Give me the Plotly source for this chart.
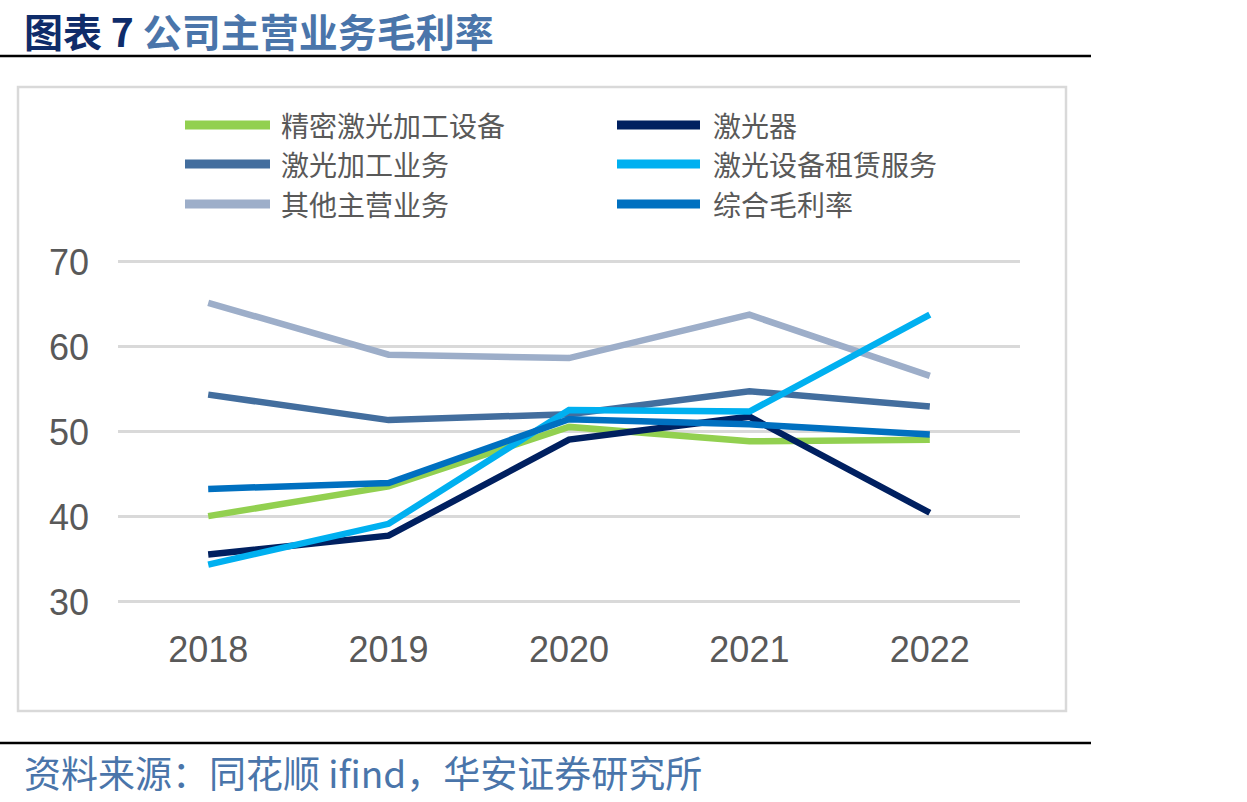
import plotly.graph_objects as go

W, H = 1247, 802

years = ["2018", "2019", "2020", "2021", "2022"]
series_names = ["精密激光加工设备", "激光器", "激光加工业务", "激光设备租赁服务", "其他主营业务", "综合毛利率"]
precision_equipment = [40.1, 43.6, 50.6, 48.9, 49.1]
lasers = [35.6, 37.8, 49.1, 51.8, 40.5]
laser_processing = [54.4, 51.4, 52.1, 54.8, 53.0]
equipment_leasing = [34.4, 39.2, 52.6, 52.4, 63.8]
other_business = [65.2, 59.1, 58.7, 63.8, 56.6]
overall_margin = [43.3, 44.0, 51.5, 50.9, 49.7]
y_ticks = [30, 40, 50, 60, 70]

values = [precision_equipment, lasers, laser_processing, equipment_leasing, other_business, overall_margin]
colors = ["#92D050", "#002060", "#436E9E", "#00B0F0", "#9DAEC9", "#0070C0"]
draw_order = [4, 2, 0, 1, 3, 5]

fig = go.Figure()
for i in draw_order:
    fig.add_trace(go.Scatter(
        x=years, y=values[i], name=series_names[i], mode="lines",
        line=dict(color=colors[i], width=6.5),
        showlegend=False, hoverinfo="x+y+name",
    ))

def px(x):
    return x / W

def py(y):
    return 1 - y / H

shapes = []
annotations = []

leg_rows = [125, 164, 204]
leg_cols = [(185, 270, 279), (617, 700, 711)]
for k, name in enumerate(series_names):
    r, c = divmod(k, 2)
    x0, x1, xt = leg_cols[c]
    yy = leg_rows[r]
    shapes.append(dict(type="line", xref="paper", yref="paper",
                       x0=px(x0), x1=px(x1), y0=py(yy), y1=py(yy),
                       line=dict(color=colors[k], width=9)))
    annotations.append(dict(xref="paper", yref="paper", x=px(xt), y=py(yy),
                            xanchor="left", yanchor="middle", showarrow=False,
                            text=name,
                            font=dict(family="Noto Sans CJK SC", size=28, color="#595959")))

shapes.append(dict(type="rect", xref="paper", yref="paper",
                   x0=px(18), x1=px(1066), y0=py(711), y1=py(87),
                   line=dict(color="#D9D9D9", width=2.5), layer="below"))
shapes.append(dict(type="line", xref="paper", yref="paper",
                   x0=0, x1=px(1091), y0=py(56), y1=py(56),
                   line=dict(color="#000000", width=2.5)))
shapes.append(dict(type="line", xref="paper", yref="paper",
                   x0=0, x1=px(1091), y0=py(743), y1=py(743),
                   line=dict(color="#000000", width=2.5)))

annotations.append(dict(xref="paper", yref="paper", x=px(22), y=py(30),
                        xanchor="left", yanchor="middle", showarrow=False,
                        text="<b><span style='color:#0F2C6A'>图表 7</span> 公司主营业务毛利率</b>",
                        font=dict(family="Noto Sans CJK SC", size=39, color="#4A75AA")))
annotations.append(dict(xref="paper", yref="paper", x=px(22), y=py(772),
                        xanchor="left", yanchor="middle", showarrow=False,
                        text="资料来源：同花顺 ifind，华安证券研究所",
                        font=dict(family="Noto Sans CJK SC", size=37, color="#4A75AA")))

pad = 0.15
fig.update_layout(
    template="none",
    width=W, height=H,
    margin=dict(l=0, r=0, t=0, b=0, pad=0, autoexpand=False),
    paper_bgcolor="white", plot_bgcolor="white",
    shapes=shapes, annotations=annotations,
    showlegend=False,
    font=dict(family="Liberation Sans, Arial", color="#595959"),
)
fig.update_xaxes(type="category", range=[-0.5, 4.5], domain=[px(118), px(1020)],
                 automargin=False,
                 showgrid=False, showline=False, zeroline=False, ticks="",
                 tickfont=dict(size=36, color="#595959", family="Liberation Sans, Arial"),
                 ticklabelstandoff=22)
fig.update_yaxes(range=[30 - pad, 70 + pad], tickvals=y_ticks,
                 domain=[py(602 + pad * 8.5), py(262 - pad * 8.5)],
                 automargin=False,
                 showgrid=True, gridcolor="#D9D9D9", gridwidth=2.5,
                 zeroline=False, showline=False, ticks="",
                 tickfont=dict(size=36, color="#595959", family="Liberation Sans, Arial"),
                 ticklabelstandoff=28)

fig.write_html("out.html")
